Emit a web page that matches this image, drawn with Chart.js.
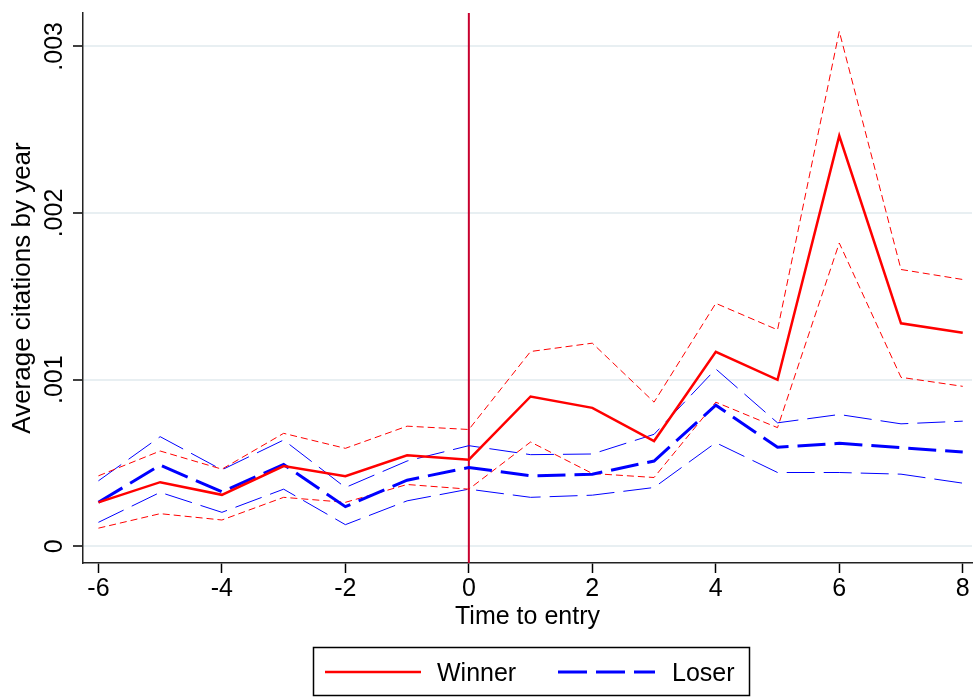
<!DOCTYPE html>
<html>
<head>
<meta charset="utf-8">
<script src="https://cdn.jsdelivr.net/npm/chart.js@4.4.0/dist/chart.umd.min.js"></script>
<style>
    html, body { margin: 0; padding: 0; background: #fff; }
</style>
</head>
<body>
<canvas id="myChart" width="974" height="699"></canvas>
<script>
// Time to entry (x) and the series
const timeToEntry = [-6, -5, -4, -3, -2, -1, 0, 1, 2, 3, 4, 5, 6, 7, 8];
const winnerMean  = [0.000264, 0.000385, 0.000309, 0.000482, 0.000421, 0.000546, 0.000520, 0.000899, 0.000831, 0.000632, 0.001167, 0.000999, 0.002463, 0.001338, 0.001282];
const winnerUpper = [0.000423, 0.000572, 0.000463, 0.000678, 0.000588, 0.000721, 0.000701, 0.001169, 0.001219, 0.000865, 0.001458, 0.001299, 0.003090, 0.001661, 0.001601];
const winnerLower = [0.000109, 0.000196, 0.000158, 0.000294, 0.000264, 0.000371, 0.000343, 0.000626, 0.000437, 0.000413, 0.000865, 0.000712, 0.001820, 0.001014, 0.000960];
const loserMean   = [0.000264, 0.000487, 0.000327, 0.000491, 0.000238, 0.000397, 0.000473, 0.000423, 0.000433, 0.000512, 0.000847, 0.000594, 0.000618, 0.000592, 0.000566];
const loserUpper  = [0.000393, 0.000658, 0.000459, 0.000638, 0.000353, 0.000512, 0.000604, 0.000550, 0.000554, 0.000672, 0.001064, 0.000741, 0.000791, 0.000735, 0.000751];
const loserLower  = [0.000144, 0.000324, 0.000204, 0.000343, 0.000130, 0.000273, 0.000343, 0.000294, 0.000307, 0.000353, 0.000622, 0.000443, 0.000443, 0.000433, 0.000379];

const xTicks = [-6, -4, -2, 0, 2, 4, 6, 8];
const yTicks = [0, 0.001, 0.002, 0.003];
const entryTime = 0;
const legendLabels = ['Winner', 'Loser'];

const FONT = "'Liberation Sans', Arial, sans-serif";
const RED = '#ff0000';
const BLUE = '#0000ff';

function toPoints(values) {
    return timeToEntry.map((t, i) => ({ x: t, y: values[i] }));
}

// vertical line at time of entry
const entryLine = {
    id: 'entryLine',
    beforeDatasetsDraw(chart) {
        const { ctx, chartArea, scales } = chart;
        const x = scales.x.getPixelForValue(entryTime);
        ctx.save();
        ctx.strokeStyle = '#c8002e';
        ctx.lineWidth = 2;
        ctx.beginPath();
        ctx.moveTo(x, chartArea.top);
        ctx.lineTo(x, chartArea.bottom);
        ctx.stroke();
        ctx.restore();
    }
};

// boxed legend like the Stata one
const boxLegend = {
    id: 'boxLegend',
    afterDraw(chart) {
        const ctx = chart.ctx;
        ctx.save();
        ctx.strokeStyle = '#000';
        ctx.lineWidth = 1.5;
        ctx.strokeRect(313.5, 647.5, 436, 48);

        ctx.lineCap = 'butt';
        ctx.strokeStyle = RED;
        ctx.lineWidth = 2.5;
        ctx.setLineDash([]);
        ctx.beginPath();
        ctx.moveTo(325, 672);
        ctx.lineTo(421, 672);
        ctx.stroke();

        ctx.strokeStyle = BLUE;
        ctx.lineWidth = 3;
        ctx.setLineDash([29, 9]);
        ctx.beginPath();
        ctx.moveTo(558, 672);
        ctx.lineTo(655, 672);
        ctx.stroke();

        ctx.setLineDash([]);
        ctx.fillStyle = '#000';
        ctx.font = '25px ' + FONT;
        ctx.textBaseline = 'alphabetic';
        ctx.fillText(legendLabels[0], 437, 681);
        ctx.fillText(legendLabels[1], 672, 681);
        ctx.restore();
    }
};

const ctx = document.getElementById('myChart').getContext('2d');
const myChart = new Chart(ctx, {
    type: 'line',
    data: {
        datasets: [
            { label: 'Winner', data: toPoints(winnerMean), borderColor: RED, borderWidth: 2.5 },
            { label: 'Loser', data: toPoints(loserMean), borderColor: BLUE, borderWidth: 3, borderDash: [28, 9] },
            { label: 'Winner upper', data: toPoints(winnerUpper), borderColor: RED, borderWidth: 1, borderDash: [7, 4] },
            { label: 'Winner lower', data: toPoints(winnerLower), borderColor: RED, borderWidth: 1, borderDash: [7, 4] },
            { label: 'Loser upper', data: toPoints(loserUpper), borderColor: BLUE, borderWidth: 1, borderDash: [28, 9] },
            { label: 'Loser lower', data: toPoints(loserLower), borderColor: BLUE, borderWidth: 1, borderDash: [28, 9] }
        ]
    },
    options: {
        responsive: false,
        animation: false,
        devicePixelRatio: 1,
        elements: {
            point: { radius: 0 },
            line: { tension: 0, fill: false, borderCapStyle: 'butt' }
        },
        layout: { padding: { top: 13, right: 2, bottom: 58, left: 0 } },
        plugins: {
            legend: { display: false },
            tooltip: { enabled: false }
        },
        scales: {
            x: {
                type: 'linear',
                min: -6.25,
                max: 8.15,
                afterBuildTicks: s => { s.ticks = xTicks.map(v => ({ value: v })); },
                afterFit: s => { s.height = 78; s.paddingLeft = 0; s.paddingRight = 0; },
                grid: { drawOnChartArea: false, tickLength: 10, tickColor: '#000', tickWidth: 1.5 },
                border: { color: '#222', width: 1.5 },
                ticks: { color: '#000', padding: 1, maxRotation: 0, font: { family: FONT, size: 25 } },
                title: { display: true, text: 'Time to entry', color: '#000', padding: { top: 0, bottom: 9 }, font: { family: FONT, size: 25 } }
            },
            y: {
                min: -0.0001,
                max: 0.0032,
                afterBuildTicks: s => { s.ticks = yTicks.map(v => ({ value: v })); },
                afterFit: s => { s.width = 83; s.paddingTop = 0; s.paddingBottom = 0; },
                grid: { color: '#e8eff2', lineWidth: 2, tickLength: 10, tickColor: '#000', tickWidth: 1.5 },
                border: { color: '#222', width: 1.5 },
                ticks: {
                    color: '#000',
                    minRotation: 90,
                    maxRotation: 90,
                    crossAlign: 'center',
                    padding: -6,
                    font: { family: FONT, size: 25 },
                    callback: v => v === 0 ? '0' : v.toFixed(3).replace(/^0/, '')
                },
                title: { display: true, text: 'Average citations by year', color: '#000', padding: { top: 7, bottom: 0 }, font: { family: FONT, size: 26 } }
            }
        }
    },
    plugins: [entryLine, boxLegend]
});
</script>
</body>
</html>
